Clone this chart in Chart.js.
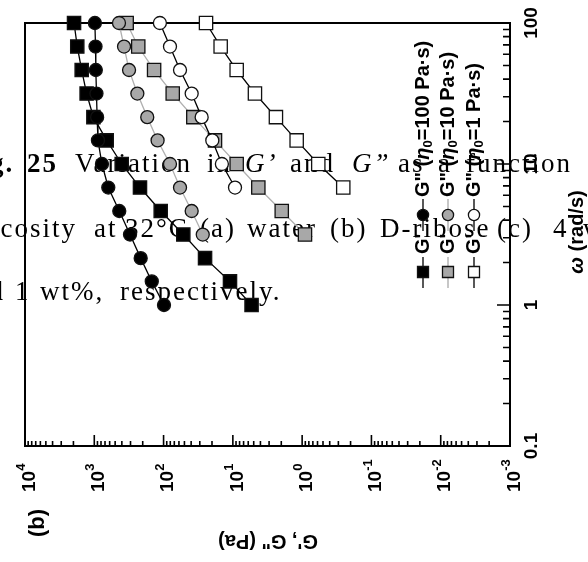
<!DOCTYPE html>
<html><head><meta charset="utf-8">
<script src="https://cdn.jsdelivr.net/npm/chart.js@4/dist/chart.umd.min.js"></script>
<style>html,body{margin:0;padding:0;background:#fff;}canvas{display:block;}</style>
</head><body>
<canvas id="c" width="588" height="562"></canvas>
<script>
// angular frequency omega (rad/s), one value per measured row
const omega = [100, 68.1, 46.4, 31.6, 21.5, 14.7, 10, 6.81, 4.64, 3.16, 2.15, 1.47, 1.0];
// G'' and G' (Pa) for the three zero-shear viscosities
const gpp100 = [980, 960, 950, 930, 910, 885, 775, 628, 436, 305, 214, 148, 98.6];
const gp100  = [1960, 1760, 1520, 1290, 1030, 662, 402, 219, 110, 51.9, 25.2, 11.0, 5.37];
const gpp10  = [440, 372, 315, 239, 172, 122, 80.8, 57.9, 39.3, 27.2];
const gp10   = [341, 232, 137, 73.8, 37.2, 18.1, 8.81, 4.29, 1.97, 0.91];
const gpp1   = [113, 80.8, 57.9, 39.3, 28.2, 19.8, 14.4, 9.31];
const gp1    = [24.4, 15.0, 8.81, 4.80, 2.39, 1.20, 0.585, 0.255];
// axis ticks
const xTickExps = [4, 3, 2, 1, 0, -1, -2, -3];
const yTickValues = [0.1, 1, 10, 100];
const yTickLabels = ['0.1', '1', '10', '100'];
// legend
const legendEta = ['100', '10', '1'];
const xTitle = 'G\', G" (Pa)';
const yTitle = ['\u03C9', ' (rad/s)'];
const panelLabel = '(b)';
// caption text lying under the figure
const captionLines = [
  {y: 172, words: [['Fig.', -38, 'bold '], ['25', 27, 'bold '], ['Variation', 75, ''], ['in', 207, ''], ['G\u2019', 245, 'italic '], ['and', 290, ''], ['G\u201D', 352, 'italic '], ['as', 398, ''], ['a', 438, ''], ['function', 466, '']]},
  {y: 237, words: [['viscosity', -37, ''], ['at', 94, ''], ['32\u00B0C', 125, ''], ['(a)', 200, ''], ['water', 247, ''], ['(b)', 330, ''], ['D-ribose', 380, ''], ['(c)', 497, ''], ['4', 553, ''], ['wt%', 583, '']]},
  {y: 300, words: [['and', -40, ''], ['1', 15, ''], ['wt%,', 40, ''], ['respectively.', 120, '']]}
];

const SANS = '"Liberation Sans", Arial, sans-serif';
const SERIF = '"Liberation Serif", "Times New Roman", serif';

function pts(vals) { return vals.map((v, i) => ({x: v, y: omega[i]})); }

function ds(vals, style, fill, line, order) {
  return {
    data: pts(vals), showLine: true, borderColor: line, borderWidth: 1.3,
    pointStyle: style, pointRadius: style === 'rect' ? 9.4 : 6.5,
    pointBackgroundColor: fill, pointBorderColor: '#111', pointBorderWidth: 1.3,
    pointHoverRadius: style === 'rect' ? 9.4 : 6.5,
    clip: false, order: order
  };
}

function drawRot(ctx, x, y, ang, runs, align) {
  ctx.save();
  ctx.translate(x, y); ctx.rotate(ang);
  ctx.textBaseline = 'middle'; ctx.textAlign = 'left';
  let total = 0;
  runs.forEach(r => { ctx.font = r.f; r.w = ctx.measureText(r.t).width; total += r.w; });
  let cx = align === 'center' ? -total / 2 : (align === 'right' ? -total : 0);
  runs.forEach(r => { ctx.font = r.f; ctx.fillText(r.t, cx, r.dy || 0); cx += r.w; });
  ctx.restore();
}

const deco = {
  id: 'deco',
  beforeDraw(chart) {
    const ctx = chart.ctx;
    ctx.save();
    ctx.fillStyle = '#000';
    ctx.textBaseline = 'alphabetic'; ctx.textAlign = 'left';
    if ('letterSpacing' in ctx) ctx.letterSpacing = '2px';
    captionLines.forEach(line => {
      line.words.forEach(w => {
        ctx.font = w[2] + '27px ' + SERIF;
        ctx.fillText(w[0], w[1], line.y);
      });
    });
    if ('letterSpacing' in ctx) ctx.letterSpacing = '0px';
    ctx.restore();
  },
  beforeDatasetsDraw(chart) {
    const ctx = chart.ctx, ca = chart.chartArea;
    const xs = chart.scales.x, ys = chart.scales.y;
    ctx.save();
    ctx.strokeStyle = '#000';
    ctx.lineWidth = 2;
    ctx.strokeRect(ca.left, ca.top, ca.right - ca.left, ca.bottom - ca.top);
    ctx.lineWidth = 1.6;
    ctx.beginPath();
    // bottom (G) ticks
    xTickExps.forEach(e => {
      for (let m = 1; m <= 9; m++) {
        const v = m * Math.pow(10, e);
        if (v > 1e4 + 1) continue;
        const px = xs.getPixelForValue(v);
        const len = m === 1 ? 11 : 5;
        ctx.moveTo(px, ca.bottom); ctx.lineTo(px, ca.bottom - len);
      }
    });
    // right (omega) ticks
    yTickValues.forEach(d => {
      for (let m = 1; m <= 9; m++) {
        const v = m * d;
        if (v > 100.01) continue;
        const py = ys.getPixelForValue(v);
        const len = m === 1 ? 13 : 7;
        ctx.moveTo(ca.right, py); ctx.lineTo(ca.right - len, py);
      }
    });
    ctx.stroke();
    ctx.fillStyle = '#000';
    // bottom tick labels
    xTickExps.forEach(e => {
      const px = xs.getPixelForValue(Math.pow(10, e));
      drawRot(ctx, px + 4.5, 492, -Math.PI / 2, [
        {t: '10', f: 'bold 19px ' + SANS},
        {t: String(e), f: 'bold 13px ' + SANS, dy: -8}
      ], 'left');
    });
    // right tick labels
    yTickValues.forEach((v, i) => {
      const py = ys.getPixelForValue(v);
      drawRot(ctx, 532, py, -Math.PI / 2, [{t: yTickLabels[i], f: 'bold 19px ' + SANS}], 'center');
    });
    // axis titles
    drawRot(ctx, 577, 232, -Math.PI / 2, [
      {t: yTitle[0], f: 'italic bold 20px ' + SANS},
      {t: yTitle[1], f: 'bold 20px ' + SANS}
    ], 'center');
    drawRot(ctx, 268, 541, Math.PI, [{t: xTitle, f: 'bold 20px ' + SANS}], 'center');
    drawRot(ctx, 38, 523, -Math.PI / 2, [{t: panelLabel, f: 'bold 22px ' + SANS}], 'center');
    ctx.restore();
  },
  afterDatasetsDraw(chart) {
    const ctx = chart.ctx;
    const cols = [423, 448, 474];
    const lineCol = ['#000', '#aaaaaa', '#000'];
    const fillCol = ['#000', '#a8a8a8', '#fff'];
    ctx.save();
    cols.forEach((x, i) => {
      ctx.strokeStyle = lineCol[i]; ctx.lineWidth = 1.3;
      ctx.beginPath();
      ctx.moveTo(x, 199); ctx.lineTo(x, 231);
      ctx.moveTo(x, 257); ctx.lineTo(x, 288);
      ctx.stroke();
      ctx.fillStyle = fillCol[i]; ctx.strokeStyle = '#111'; ctx.lineWidth = 1.3;
      ctx.beginPath(); ctx.arc(x, 215, 5.6, 0, Math.PI * 2); ctx.fill(); ctx.stroke();
      ctx.beginPath(); ctx.rect(x - 5.5, 266.5, 11, 11); ctx.fill(); ctx.stroke();
      ctx.fillStyle = '#000';
      drawRot(ctx, x, 197, -Math.PI / 2, [
        {t: 'G" (', f: 'bold 20px ' + SANS},
        {t: '\u03B7', f: 'italic bold 20px ' + SANS},
        {t: '0', f: 'bold 13px ' + SANS, dy: 5},
        {t: '=' + legendEta[i] + ' Pa\u00B7s)', f: 'bold 20px ' + SANS}
      ], 'left');
      drawRot(ctx, x, 254, -Math.PI / 2, [{t: 'G\'', f: 'bold 20px ' + SANS}], 'left');
    });
    ctx.restore();
  }
};

new Chart(document.getElementById('c'), {
  type: 'scatter',
  data: {
    datasets: [
      ds(gpp1, 'circle', '#ffffff', '#000', 0),
      ds(gp1, 'rect', '#ffffff', '#000', 1),
      ds(gpp10, 'circle', '#a8a8a8', '#b0b0b0', 2),
      ds(gp10, 'rect', '#a8a8a8', '#b0b0b0', 3),
      ds(gpp100, 'circle', '#000000', '#000', 4),
      ds(gp100, 'rect', '#000000', '#000', 5)
    ]
  },
  options: {
    responsive: false, animation: false, devicePixelRatio: 1,
    layout: {padding: {left: 25, top: 23, right: 78, bottom: 116}},
    plugins: {legend: {display: false}, tooltip: {enabled: false}},
    scales: {
      x: {type: 'logarithmic', reverse: true, min: 1e-3, max: 1e4, display: false},
      y: {type: 'logarithmic', min: 0.1, max: 100, display: false}
    }
  },
  plugins: [deco]
});
</script>
</body></html>
